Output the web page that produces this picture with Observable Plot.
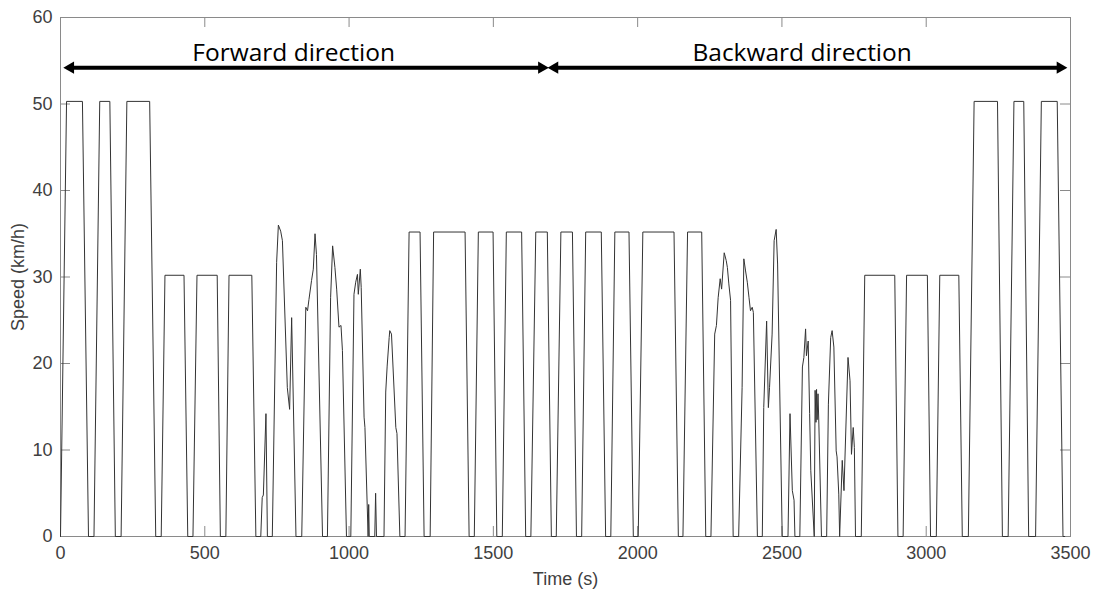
<!DOCTYPE html>
<html>
<head>
<meta charset="utf-8">
<script src="https://cdn.jsdelivr.net/npm/d3@7"></script>
<script src="https://cdn.jsdelivr.net/npm/@observablehq/plot@0.6"></script>
<style>
  html, body { margin: 0; padding: 0; background: #fff; }
  #chart { width: 1099px; height: 594px; }
</style>
</head>
<body>
<div id="chart"></div>
<script>
// ---- data ----
const time = [
  0, 21, 76, 97, 116, 136, 171, 190, 210, 230, 309, 330, 349, 362, 428, 441, 459, 473, 543, 554,
  573, 584, 663, 677, 694, 699, 703, 712, 717, 734, 749, 755, 763, 769, 786, 794, 801, 816, 836, 850,
  856, 861, 870, 876, 882, 887, 908, 925, 936, 943, 951, 957, 965, 972, 977, 991, 1006, 1017, 1023, 1029,
  1032, 1039, 1042, 1052, 1055, 1066, 1068, 1070, 1089, 1092, 1095, 1121, 1127, 1132, 1139, 1141, 1147, 1162, 1166, 1176,
  1194, 1208, 1246, 1260, 1281, 1293, 1402, 1416, 1434, 1448, 1499, 1512, 1531, 1545, 1598, 1612, 1630, 1647, 1687, 1701,
  1718, 1734, 1774, 1788, 1806, 1820, 1874, 1889, 1907, 1921, 1970, 1985, 2002, 2018, 2126, 2141, 2157, 2173, 2222, 2236,
  2254, 2267, 2273, 2279, 2286, 2291, 2300, 2307, 2311, 2316, 2322, 2331, 2350, 2362, 2368, 2374, 2380, 2386, 2391, 2397,
  2401, 2415, 2432, 2437, 2447, 2453, 2457, 2466, 2473, 2480, 2485, 2501, 2521, 2528, 2536, 2542, 2545, 2562, 2571, 2576,
  2582, 2585, 2591, 2596, 2600, 2612, 2615, 2618, 2620, 2622, 2625, 2628, 2637, 2655, 2661, 2669, 2674, 2680, 2688, 2691,
  2697, 2700, 2709, 2715, 2729, 2736, 2741, 2747, 2751, 2755, 2775, 2787, 2891, 2902, 2920, 2932, 3004, 3015, 3035, 3047,
  3113, 3125, 3146, 3166, 3247, 3264, 3284, 3304, 3338, 3355, 3379, 3399, 3454, 3474, 3480
];
const speed = [
  0, 50.3, 50.3, 0, 0, 50.3, 50.3, 0, 0, 50.3, 50.3, 0, 0, 30.2, 30.2, 0, 0, 30.2, 30.2, 0,
  0, 30.2, 30.2, 0, 0, 4.5, 4.8, 14.2, 0, 0, 31.7, 36.0, 35.3, 34.2, 17.2, 14.7, 25.3, 0, 0, 26.5,
  26.1, 27.4, 29.6, 30.9, 35.0, 32.6, 0, 0, 27.6, 33.6, 31.1, 28.6, 24.2, 24.4, 21.5, 0, 0, 28.0, 29.4, 30.3,
  28.0, 30.9, 28.8, 13.8, 12.6, 0, 3.7, 0, 0, 5.0, 0, 0, 16.7, 19.7, 23.0, 23.8, 23.4, 12.6, 11.9, 0,
  0, 35.2, 35.2, 0, 0, 35.2, 35.2, 0, 0, 35.2, 35.2, 0, 0, 35.2, 35.2, 0, 0, 35.2, 35.2, 0,
  0, 35.2, 35.2, 0, 0, 35.2, 35.2, 0, 0, 35.2, 35.2, 0, 0, 35.2, 35.2, 0, 0, 35.2, 35.2, 0,
  0, 23.4, 24.4, 27.6, 29.8, 28.6, 32.8, 31.9, 31.1, 29.2, 27.3, 0, 0, 17.2, 32.1, 30.7, 29.4, 27.6, 26.1, 26.5,
  25.9, 0, 0, 14.9, 24.9, 14.9, 17.2, 23.4, 34.2, 35.5, 31.5, 0, 0, 14.2, 5.3, 4.2, 0, 0, 19.6, 20.7,
  24.0, 20.9, 22.6, 14.2, 7.6, 0, 16.9, 13.2, 17.0, 13.5, 16.5, 13.0, 0, 0, 15.3, 23.0, 23.8, 21.9, 9.9, 9.2,
  4.9, 0, 8.8, 5.3, 20.7, 18.0, 9.5, 12.6, 10.3, 0, 0, 30.2, 30.2, 0, 0, 30.2, 30.2, 0, 0, 30.2,
  30.2, 0, 0, 50.3, 50.3, 0, 0, 50.3, 50.3, 0, 0, 50.3, 50.3, 0, 0
];
const xTicks = [0, 500, 1000, 1500, 2000, 2500, 3000, 3500];
const yTicks = [0, 10, 20, 30, 40, 50, 60];
const segLabels = ["Forward direction", "Backward direction"];
const segStart = [12, 1690];
const segEnd = [1690, 3487];
const segLabelX = [808, 2570];

// ---- build tables ----
const rows = time.map((t, i) => ({t, v: speed[i]}));
const segs = segLabels.map((label, i) => ({label, x1: segStart[i], x2: segEnd[i], lx: segLabelX[i]}));
const heads = segs.flatMap(s => [{x: s.x1, dir: "left"}, {x: s.x2, dir: "right"}]);

const ARROW_Y = 54.2;
const axisGrey = "#8a8a8a";

const chart = Plot.plot({
  width: 1099,
  height: 594,
  marginLeft: 60,
  marginRight: 29,
  marginTop: 17,
  marginBottom: 58,
  x: {domain: [0, 3500]},
  y: {domain: [0, 60]},
  style: {fontFamily: "'Liberation Sans', Arial, sans-serif", fontSize: "18px", color: "#404040", background: "#fff"},
  marks: [
    Plot.frame({stroke: axisGrey}),
    // inward ticks on all four sides
    Plot.tickX(xTicks, {x: d => d, insetTop: 509, stroke: axisGrey}),
    Plot.tickX(xTicks, {x: d => d, insetBottom: 509, stroke: axisGrey}),
    Plot.tickY(yTicks, {y: d => d, insetRight: 1000, stroke: axisGrey}),
    Plot.tickY(yTicks, {y: d => d, insetLeft: 1000, stroke: axisGrey}),
    Plot.axisX(xTicks, {tickSize: 0, tickPadding: 10, tickFormat: d => String(d), label: null}),
    Plot.axisY(yTicks, {tickSize: 0, tickPadding: 8, tickFormat: d => String(d), label: null}),
    Plot.text(["Time (s)"], {frameAnchor: "bottom", dy: 43, lineAnchor: "middle", fill: "#404040"}),
    Plot.text(["Speed (km/h)"], {frameAnchor: "left", dx: -42, rotate: -90, textAnchor: "middle", lineAnchor: "middle", fill: "#404040"}),
    // speed trace
    Plot.line(rows, {x: "t", y: "v", stroke: "#333", strokeWidth: 1}),
    // direction arrows
    Plot.ruleY(segs, {y: ARROW_Y, x1: "x1", x2: "x2", stroke: "#000", strokeWidth: 4, insetLeft: 7, insetRight: 7}),
    Plot.dot(heads.filter(h => h.dir === "right"), {x: "x", y: ARROW_Y, symbol: "triangle", r: 4.6, rotate: 90, fill: "#000", stroke: null, dx: -6.5}),
    Plot.dot(heads.filter(h => h.dir === "left"), {x: "x", y: ARROW_Y, symbol: "triangle", r: 4.6, rotate: -90, fill: "#000", stroke: null, dx: 6.5}),
    Plot.text(segs, {x: "lx", y: ARROW_Y, text: "label", dy: -7, lineAnchor: "bottom", fontSize: 24.5, fontFamily: "'Open Sans', sans-serif", fill: "#000"})
  ]
});
document.getElementById("chart").appendChild(chart);
</script>
</body>
</html>
